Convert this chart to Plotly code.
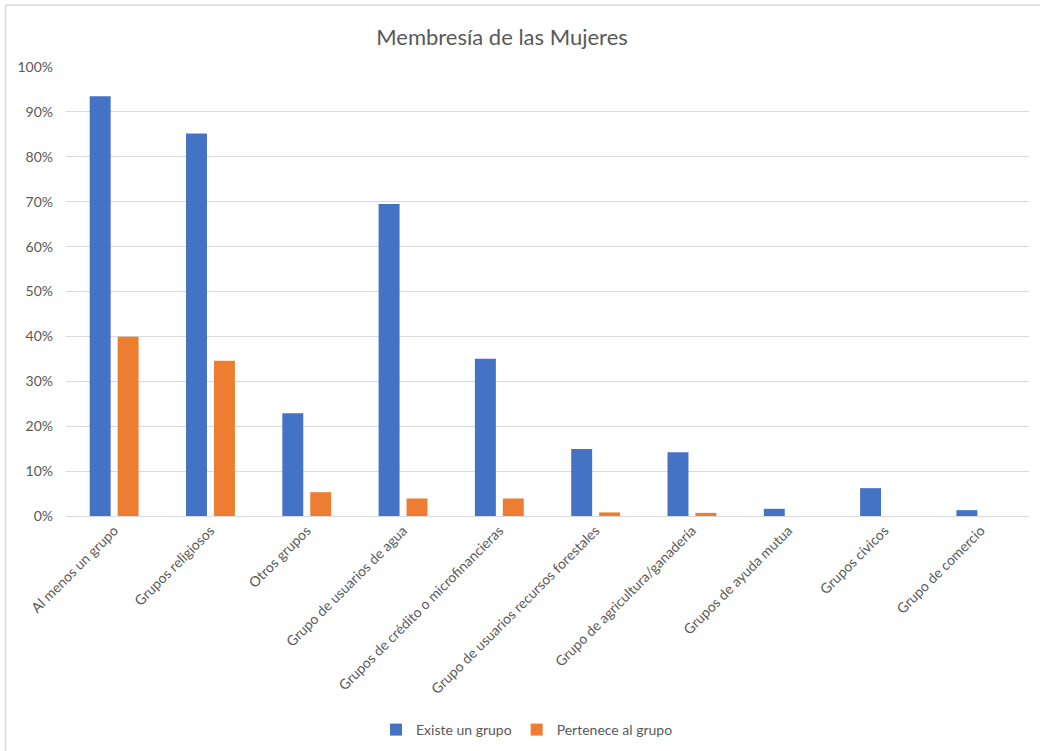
import plotly.graph_objects as go

categories = [
    "Al menos un grupo", "Grupos religiosos", "Otros grupos",
    "Grupo de usuarios de agua", "Grupos de crédito o microfinancieras",
    "Grupo de usuarios recursos forestales", "Grupo de agricultura/ganadería",
    "Grupos de ayuda mutua", "Grupos cívicos", "Grupo de comercio",
]
existe = [0.935, 0.852, 0.229, 0.695, 0.350, 0.149, 0.142, 0.016, 0.062, 0.013]
pertenece = [0.399, 0.346, 0.053, 0.039, 0.039, 0.008, 0.007, 0.0, 0.0, 0.0]
tick_vals = [0, 0.1, 0.2, 0.3, 0.4, 0.5, 0.6, 0.7, 0.8, 0.9, 1.0]
tick_text = ["0%", "10%", "20%", "30%", "40%", "50%", "60%", "70%", "80%", "90%", "100%"]

FONT = "Lato"
TXT = "#595959"

fig = go.Figure()
fig.add_trace(go.Bar(x=categories, y=existe, name="Existe un grupo",
                     marker=dict(color="#4472C4", line=dict(width=0))))
fig.add_trace(go.Bar(x=categories, y=pertenece, name="Pertenece al grupo",
                     marker=dict(color="#ED7D31", line=dict(width=0))))

L, R, T, B = 66, 1029, 67, 516
W, H = R - L, B - T

fig.update_layout(
    width=1040, height=751,
    margin=dict(l=L, r=1040 - R, t=T, b=751 - B, autoexpand=False),
    paper_bgcolor="white", plot_bgcolor="white",
    barmode="group", bargap=0.42, bargroupgap=0.25,
    font=dict(family=FONT, color=TXT, size=13),
    title=dict(text="Membresía de las Mujeres", x=(502 - L) / W, xref="paper",
               xanchor="center", y=1 - 37 / 751, yanchor="middle",
               font=dict(size=22, color=TXT, family=FONT)),
    showlegend=True,
    legend=dict(orientation="h", x=(527 - L) / W, xanchor="center",
                y=(B - 730) / H, yanchor="middle",
                font=dict(size=14, color=TXT, family=FONT),
                itemwidth=30, traceorder="normal"),
    xaxis=dict(tickangle=-45, showgrid=False, showline=True, automargin=False,
               linecolor="#D9D9D9", linewidth=1, ticks="",
               tickfont=dict(size=14, color=TXT, family=FONT)),
    yaxis=dict(range=[0, 1.0], tickvals=tick_vals, ticktext=tick_text,
               automargin=False, ticklabelstandoff=12,
               showgrid=True, gridcolor="#D9D9D9", gridwidth=1,
               zeroline=False, showline=False, ticks="",
               tickfont=dict(size=14, color=TXT, family=FONT)),
)

# outer chart border (left and top edges visible)
fig.add_shape(type="line", xref="paper", yref="paper",
              x0=(5.5 - L) / W, x1=(5.5 - L) / W,
              y0=(B - 760) / H, y1=1 + (T - 5) / H,
              line=dict(color="#D9D9D9", width=1.5))
fig.add_shape(type="line", xref="paper", yref="paper",
              x0=(5.5 - L) / W, x1=(1040 - L) / W,
              y0=1 + (T - 5) / H, y1=1 + (T - 5) / H,
              line=dict(color="#D9D9D9", width=1.5))

fig.write_html("out.html", config={"displayModeBar": False},
               post_script="document.body.style.margin='0';document.body.style.overflow='hidden';")
